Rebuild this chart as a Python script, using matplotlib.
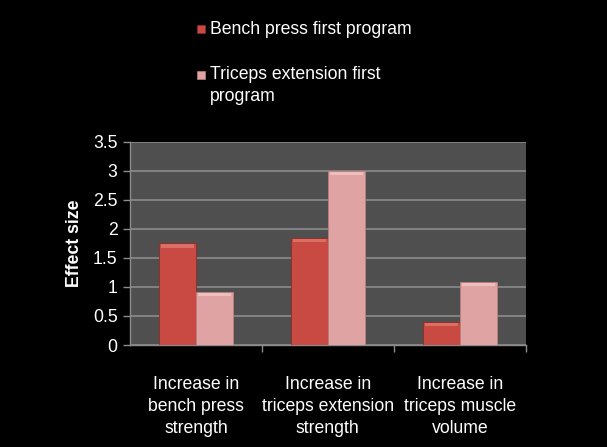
import matplotlib
matplotlib.use("Agg")
import matplotlib.pyplot as plt
import numpy as np

categories = ["Increase in\nbench press\nstrength",
              "Increase in\ntriceps extension\nstrength",
              "Increase in\ntriceps muscle\nvolume"]
series_names = ["Bench press first program", "Triceps extension first\nprogram"]
bench_first = [1.75, 1.84, 0.40]
triceps_first = [0.91, 3.0, 1.09]
yticks = [0, 0.5, 1, 1.5, 2, 2.5, 3, 3.5]
ytick_labels = ["0", "0.5", "1", "1.5", "2", "2.5", "3", "3.5"]

plt.rcParams['font.family'] = ['Liberation Sans', 'DejaVu Sans']
FS = 12.7

fig = plt.figure(figsize=(6.07, 4.47), dpi=100, facecolor='black')
ax = fig.add_axes([130/607, 1-345/447, (525.7-130)/607, (345-141.7)/447])
ax.set_facecolor('#4f4f4f')

x = np.arange(len(categories))
w = 0.28
colors = ['#c94a42', '#e0a3a3']
tops = ['#dd6e65', '#efbdbb']
edge = ['#8e2c26', '#b98080']
ax.bar(x - w/2, bench_first, w, color=colors[0], edgecolor=edge[0], linewidth=0.6, zorder=3)
ax.bar(x + w/2, triceps_first, w, color=colors[1], edgecolor=edge[1], linewidth=0.6, zorder=3)
bev = 0.06
ax.bar(x - w/2, [bev]*3, w*0.9, bottom=np.array(bench_first) - bev - 0.015,
       color=tops[0], linewidth=0, zorder=4)
ax.bar(x + w/2, [bev]*3, w*0.9, bottom=np.array(triceps_first) - bev - 0.015,
       color=tops[1], linewidth=0, zorder=4)

ax.set_xlim(-0.5, 2.5)
ax.set_ylim(0, 3.5)
ax.set_yticks(yticks)
ax.set_yticklabels(ytick_labels, color='white', fontsize=FS)
ax.yaxis.grid(True, color='#8c8c8c', linewidth=1.2, zorder=0)
ax.set_axisbelow(True)
ax.set_xticks([0.5, 1.5, 2.5])
ax.set_xticklabels([])
ax.tick_params(axis='x', length=5, color='#8c8c8c', width=1)
ax.tick_params(axis='y', length=5, color='#8c8c8c', width=1, pad=4)
for s in ['top', 'right']:
    ax.spines[s].set_visible(False)
for s in ['left', 'bottom']:
    ax.spines[s].set_color('#8c8c8c')
    ax.spines[s].set_linewidth(1)

for i, lab in enumerate(categories):
    ax.text(x[i], -0.53, lab, transform=ax.transData, ha='center', va='top',
            color='white', fontsize=FS, linespacing=1.38)

ax.set_ylabel('Effect size', color='white', fontsize=FS, fontweight='bold', labelpad=7)

# legend
fig.patches.append(plt.Rectangle((197/607, 1-33/447), 8/607, 8/447, transform=fig.transFigure,
                                 facecolor=colors[0], edgecolor=edge[0], linewidth=0.5))
fig.patches.append(plt.Rectangle((197/607, 1-79/447), 8/607, 8/447, transform=fig.transFigure,
                                 facecolor=colors[1], edgecolor=edge[1], linewidth=0.5))
fig.text(210/607, 1-29/447, series_names[0], color='white', fontsize=FS, va='center', ha='left')
fig.text(210/607, 1-66/447, series_names[1], color='white', fontsize=FS, va='top', ha='left',
         linespacing=1.38)

fig.savefig('out.png', dpi=100, facecolor='black')
